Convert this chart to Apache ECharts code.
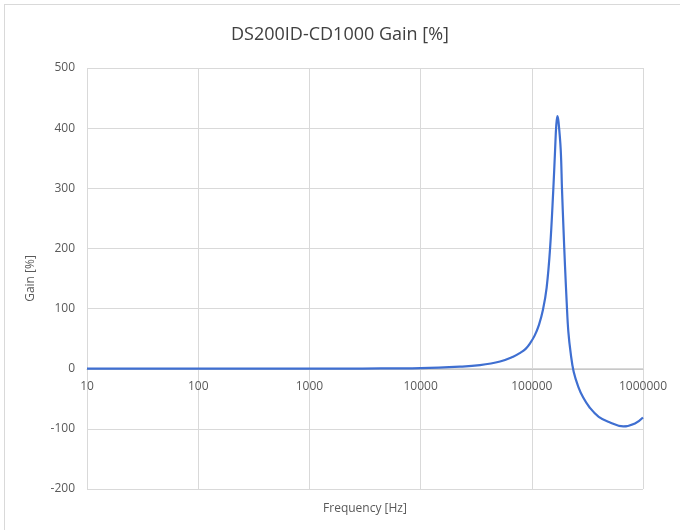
<!DOCTYPE html>
<html>
<head>
<meta charset="utf-8">
<script src="https://cdn.jsdelivr.net/npm/echarts@6/dist/echarts.min.js"></script>
<style>
  html, body { margin: 0; padding: 0; background: #fff; }
  #chart { width: 680px; height: 530px; }
  #frame { position: absolute; left: 4px; top: 4px; width: 690px; height: 540px; border: 1px solid #d9d9d9; pointer-events: none; }
</style>
</head>
<body>
<div id="chart"></div>
<div id="frame"></div>
<script>
// frequency [Hz] / gain [%]
const freqs = [10, 100, 1000, 3000, 10000, 22600, 34200, 51800, 68000, 78000, 88000,
  97000, 106000, 116000, 126000, 136000, 146000, 156000, 162000, 166000, 170000,
  174000, 182000, 187000, 193000, 199000, 206000, 213000, 224000, 238000, 262000,
  290000, 330000, 400000, 500000, 665000, 847000, 1000000];
const gains = [0, 0, 0, 0.3, 1, 3.4, 6, 12, 20, 26, 33,
  43, 55, 73, 98, 135, 200, 297, 364, 405, 420,
  410, 364, 297, 230, 170, 110, 62, 25, -5, -30,
  -48, -64, -80, -89, -96, -91, -81];

const xTickLabels = ['10', '100', '1000', '10000', '100000', '1000000'];
const yTicks = [-200, -100, 0, 100, 200, 300, 400, 500];

const chart = echarts.init(document.getElementById('chart'));
const textColor = '#595959';
const gridColor = '#d9d9d9';

// x axis sits on the 0 gridline: 200 of 700 units above the bottom of a 421px plot
const zeroOffset = -Math.round(421 * 200 / 700);

chart.setOption({
  animation: false,
  textStyle: { fontFamily: 'Open Sans' },
  title: {
    text: 'DS200ID-CD1000 Gain [%]',
    left: 'center',
    top: 21,
    textStyle: { fontSize: 18, fontWeight: 'normal', color: '#404040', fontFamily: 'Open Sans' }
  },
  grid: { left: 87, right: 37, top: 68, bottom: 41, outerBoundsMode: 'none', containLabel: false },
  xAxis: {
    type: 'log',
    logBase: 10,
    min: 10,
    max: 1000000,
    offset: zeroOffset,
    name: 'Frequency [Hz]',
    nameLocation: 'middle',
    nameGap: 134,
    nameTextStyle: { color: textColor, fontSize: 12 },
    axisLine: { onZero: false, lineStyle: { color: '#c8c8c8', width: 1 } },
    axisTick: { show: false },
    axisLabel: {
      color: textColor,
      fontSize: 12,
      margin: 12,
      formatter: v => {
        const i = Math.round(Math.log10(v)) - 1;
        return xTickLabels[i] || '';
      }
    },
    splitLine: { show: true, lineStyle: { color: gridColor, width: 1 } }
  },
  yAxis: {
    type: 'value',
    min: yTicks[0],
    max: yTicks[yTicks.length - 1],
    interval: 100,
    name: 'Gain [%]',
    nameLocation: 'middle',
    nameGap: 50,
    nameTextStyle: { color: textColor, fontSize: 12 },
    axisLine: { show: false },
    axisTick: { show: false },
    axisLabel: { color: textColor, fontSize: 12, margin: 12 },
    splitLine: { show: true, lineStyle: { color: gridColor, width: 1 } }
  },
  series: [{
    type: 'line',
    data: freqs.map((f, i) => [f, gains[i]]),
    smooth: 0.4,
    showSymbol: false,
    lineStyle: { color: '#3f6fd1', width: 2.2 },
    itemStyle: { color: '#3f6fd1' }
  }]
});
</script>
</body>
</html>
